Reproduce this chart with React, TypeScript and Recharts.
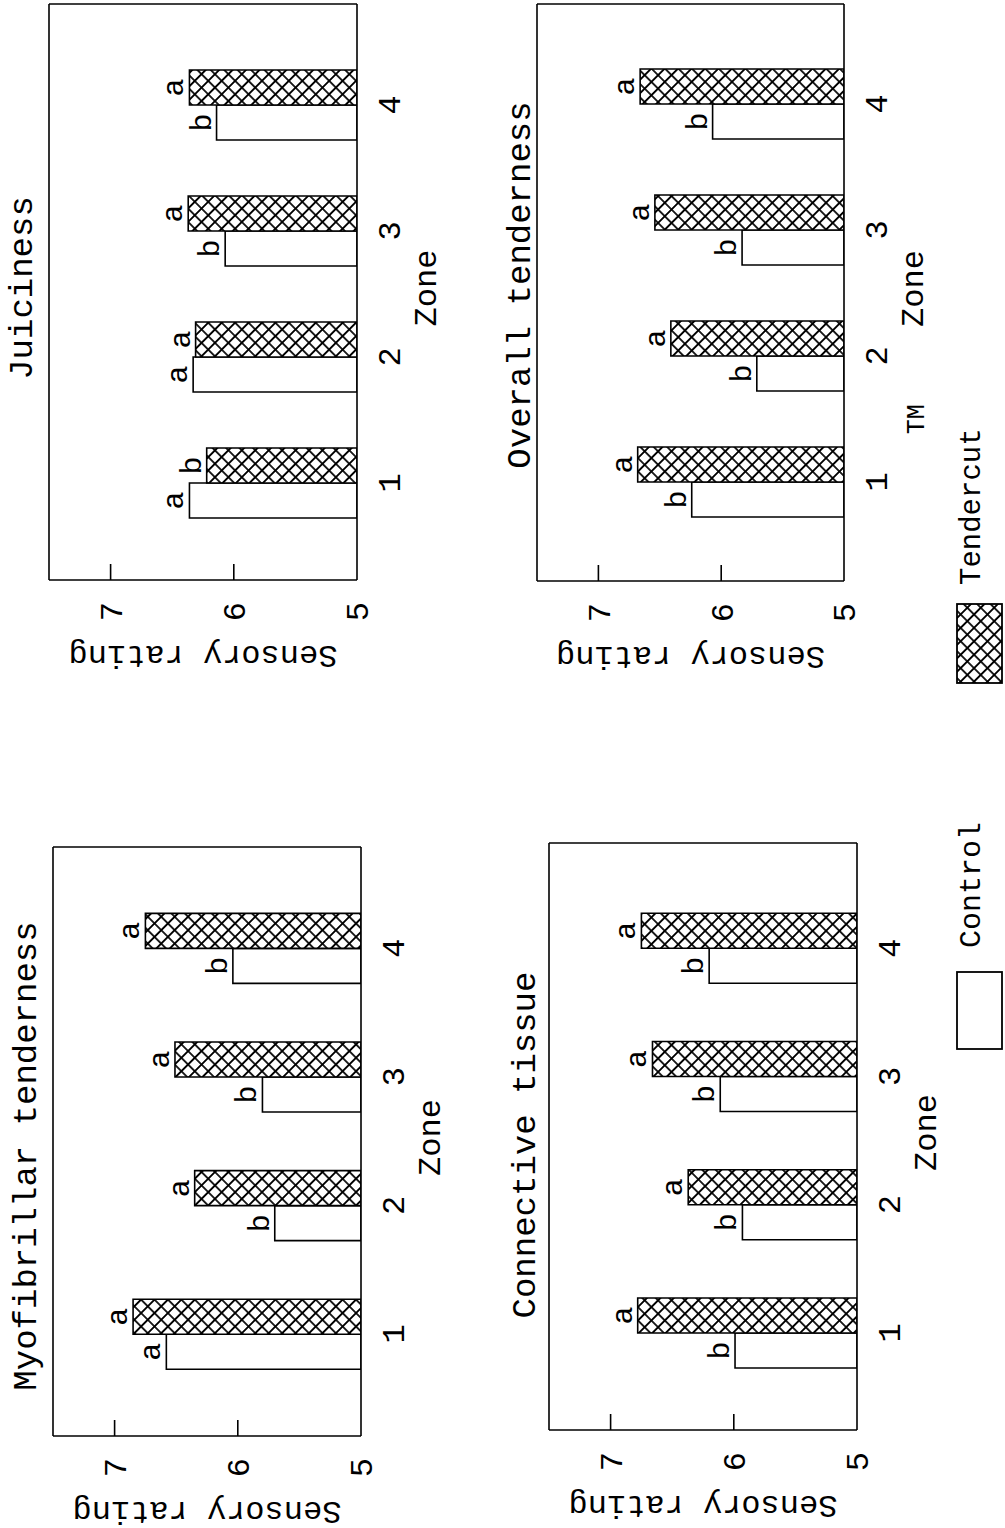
import React from 'react';
import { BarChart, Bar, XAxis, YAxis, LabelList, Label, CartesianGrid } from 'recharts';

const FONT = '"Liberation Mono", "DejaVu Sans Mono", monospace';

const zones = ['1', '2', '3', '4'];
const yTicks = [5, 6, 7];
const yDomain = [5, 7.5];

const myoControl = [6.58, 5.7, 5.8, 6.04];
const myoTender = [6.85, 6.35, 6.51, 6.75];
const myoControlSig = ['a', 'b', 'b', 'b'];
const myoTenderSig = ['a', 'a', 'a', 'a'];

const conControl = [5.99, 5.93, 6.11, 6.2];
const conTender = [6.78, 6.37, 6.66, 6.75];
const conControlSig = ['b', 'b', 'b', 'b'];
const conTenderSig = ['a', 'a', 'a', 'a'];

const juiControl = [6.36, 6.33, 6.07, 6.14];
const juiTender = [6.22, 6.31, 6.37, 6.36];
const juiControlSig = ['a', 'a', 'b', 'b'];
const juiTenderSig = ['b', 'a', 'a', 'a'];

const ovrControl = [6.24, 5.71, 5.83, 6.07];
const ovrTender = [6.68, 6.41, 6.54, 6.66];
const ovrControlSig = ['b', 'b', 'b', 'b'];
const ovrTenderSig = ['a', 'a', 'a', 'a'];

const yLabel = 'Sensory rating';
const xLabel = 'Zone';

const YW = 92;
const LINE = { stroke: '#000', strokeWidth: 1.6 };

function YTick(props: any) {
  const { x, y, payload } = props;
  const axisX = x + 22;
  return (
    <g>
      {payload.value !== 5 && (
        <line x1={axisX} x2={axisX + 16} y1={y} y2={y} stroke="#000" strokeWidth={1.6} />
      )}
      <text x={x} y={y} dy="0.355em" textAnchor="end" fill="#000" fontSize={32} fontFamily={FONT}>
        {payload.value}
      </text>
    </g>
  );
}

function Panel(p: any) {
  const data = zones.map((z, i) => ({
    zone: z,
    control: p.control[i],
    tender: p.tender[i],
    cSig: p.cSig[i],
    tSig: p.tSig[i],
  }));
  const width = YW + (p.right - p.left) + 20;
  const height = p.base - p.chartTop + 90;
  const pid = 'hatch-' + p.id;
  return (
    <div style={{ position: 'absolute', left: p.left - YW, top: p.chartTop }}>
      <BarChart
        width={width}
        height={height}
        data={data}
        margin={{ top: p.top - p.chartTop, right: 20, bottom: 0, left: 0 }}
        barGap={0}
        barSize={35}
      >
        <defs>
          <pattern id={pid} patternUnits="userSpaceOnUse" width={9.5} height={9.5} patternTransform="rotate(45)">
            <rect x={0} y={0} width={9.5} height={9.5} fill="#fff" />
            <path d="M4.75,0 V9.5 M0,4.75 H9.5" stroke="#000" strokeWidth={1.7} />
          </pattern>
        </defs>
        <CartesianGrid
          stroke="#000"
          strokeWidth={1.6}
          horizontalCoordinatesGenerator={(gp: any) => [gp.offset.top]}
          verticalCoordinatesGenerator={(gp: any) => [gp.offset.left + gp.offset.width]}
        />
        <XAxis
          dataKey="zone"
          padding={{ left: p.padL, right: p.padR }}
          axisLine={LINE}
          tickLine={false}
          tickSize={0}
          tickMargin={20}
          interval={0}
          height={90}
          tick={{ fill: '#000', fontSize: 32, fontFamily: FONT }}
        >
          <Label
            content={(lp: any) => {
              const vb = lp.viewBox || {};
              return (
                <text
                  x={vb.x + vb.width / 2 + 4}
                  y={vb.y + 79}
                  textAnchor="middle"
                  fill="#000"
                  fontSize={32}
                  fontFamily={FONT}
                >
                  {xLabel}
                </text>
              );
            }}
          />
        </XAxis>
        <YAxis
          domain={yDomain}
          ticks={yTicks}
          allowDataOverflow
          width={YW}
          axisLine={LINE}
          tickLine={false}
          tickSize={0}
          tickMargin={22}
          tick={<YTick />}
        >
          <Label
            content={(lp: any) => {
              const vb = lp.viewBox || {};
              const cx = vb.x + 18;
              const cy = vb.y + vb.height / 2;
              return (
                <text
                  x={cx}
                  y={cy}
                  transform={`rotate(-90 ${cx} ${cy})`}
                  textAnchor="middle"
                  dominantBaseline="central"
                  fill="#000"
                  fontSize={32}
                  fontFamily={FONT}
                >
                  {yLabel}
                </text>
              );
            }}
          />
        </YAxis>
        <Bar dataKey="control" fill="#fff" stroke="#000" strokeWidth={1.6} isAnimationActive={false}>
          <LabelList dataKey="cSig" position="top" offset={6} fill="#000" fontSize={30} fontFamily={FONT} />
        </Bar>
        <Bar dataKey="tender" fill={`url(#${pid})`} stroke="#000" strokeWidth={1.6} isAnimationActive={false}>
          <LabelList dataKey="tSig" position="top" offset={6} fill="#000" fontSize={30} fontFamily={FONT} />
        </Bar>
      </BarChart>
    </div>
  );
}

function Overlay() {
  return (
    <svg width={1528} height={1005} style={{ position: 'absolute', left: 0, top: 0, pointerEvents: 'none' }}>
      <defs>
        <pattern id="hatch-legend" patternUnits="userSpaceOnUse" width={9.5} height={9.5} patternTransform="rotate(45)">
          <rect x={0} y={0} width={9.5} height={9.5} fill="#fff" />
          <path d="M4.75,0 V9.5 M0,4.75 H9.5" stroke="#000" strokeWidth={1.7} />
        </pattern>
      </defs>
      <g fontFamily={FONT} fill="#000" fontSize={34} textAnchor="middle">
        <text x={372} y={36}>Myofibrillar tenderness</text>
        <text x={383} y={535}>Connective tissue</text>
        <text x={1240} y={32}>Juiciness</text>
        <text x={1243} y={530}>Overall tenderness</text>
      </g>
      <rect x={479} y={957} width={77} height={45} fill="#fff" stroke="#000" strokeWidth={1.8} />
      <text x={580} y={980} fontFamily={FONT} fontSize={30} fill="#000">Control</text>
      <rect x={845} y={957} width={79} height={45} fill="url(#hatch-legend)" stroke="#000" strokeWidth={1.8} />
      <text x={943} y={980} fontFamily={FONT} fontSize={29} fill="#000">
        Tendercut
        <tspan fontSize={25} dx={-6} dy={-56}>TM</tspan>
      </text>
    </svg>
  );
}

export default function App() {
  return (
    <div
      style={{
        position: 'absolute',
        left: 0,
        top: 0,
        width: 1005,
        height: 1528,
        overflow: 'hidden',
        background: '#fff',
      }}
    >
      <div
        style={{
          position: 'absolute',
          left: 0,
          top: 0,
          width: 1528,
          height: 1005,
          transformOrigin: '0 0',
          transform: 'translate(0px, 1528px) rotate(-90deg)',
          background: '#fff',
        }}
      >
        <Panel
          id="myo"
          control={myoControl}
          tender={myoTender}
          cSig={myoControlSig}
          tSig={myoTenderSig}
          left={92}
          right={681}
          top={53}
          base={361}
          chartTop={0}
          padL={37.7}
          padR={36.7}
        />
        <Panel
          id="con"
          control={conControl}
          tender={conTender}
          cSig={conControlSig}
          tSig={conTenderSig}
          left={98}
          right={685}
          top={549}
          base={857}
          chartTop={470}
          padL={33}
          padR={41}
        />
        <Panel
          id="jui"
          control={juiControl}
          tender={juiTender}
          cSig={juiControlSig}
          tSig={juiTenderSig}
          left={948}
          right={1524}
          top={49}
          base={357}
          chartTop={0}
          padL={34}
          padR={38}
        />
        <Panel
          id="ovr"
          control={ovrControl}
          tender={ovrTender}
          cSig={ovrControlSig}
          tSig={ovrTenderSig}
          left={947}
          right={1524}
          top={537}
          base={844}
          chartTop={470}
          padL={36}
          padR={37}
        />
        <Overlay />
      </div>
    </div>
  );
}
